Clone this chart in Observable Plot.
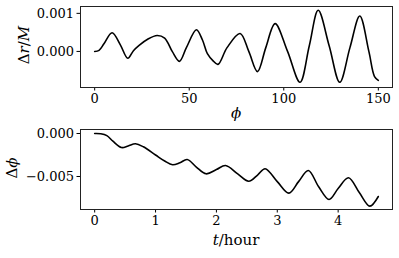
<!DOCTYPE html>
<html><head><meta charset="utf-8">
<script src="https://cdn.jsdelivr.net/npm/d3@7"></script>
<script src="https://cdn.jsdelivr.net/npm/@observablehq/plot@0.6"></script>
<style>
body{margin:0;background:#fff;}
#chart{width:399px;}
svg{display:block;}
svg text, svg g{font-family:"DejaVu Serif" !important;}
</style></head><body><div id="chart"></div>
<script>
const phi = [0, 2.3, 4.9, 9.2, 13.5, 17.5, 20.5, 23.5, 28, 33, 37, 41, 44.8, 48.5, 53.8, 57, 59.6, 62.5, 65.2, 70, 76.9, 81.5, 86.1, 90.5, 95.4, 102, 108.6, 113.5, 118.2, 124, 129.6, 135, 140.2, 145, 148, 150];
const dr = [0, 0.00003, 0.0002, 0.00049, 0.00018, -0.00018, 0.00002, 0.00016, 0.00032, 0.00042, 0.00035, 0.0, -0.00026, 0.0001, 0.00057, 0.0003, -0.00006, -0.00024, -0.00034, 0.0001, 0.00047, 0.0, -0.00053, 0.0001, 0.00073, 0.0, -0.00081, 0.00015, 0.00108, 0.00015, -0.00081, 0.0001, 0.00093, 0.0, -0.00066, -0.00076];
const tHour = [0, 0.1, 0.2, 0.3, 0.44, 0.55, 0.67, 0.8, 1.0, 1.15, 1.28, 1.4, 1.52, 1.67, 1.83, 2.0, 2.15, 2.35, 2.53, 2.68, 2.8, 3.0, 3.19, 3.35, 3.51, 3.68, 3.85, 4.0, 4.17, 4.35, 4.52, 4.66];
const dphi = [0, -0.00003, -0.00025, -0.0009, -0.00163, -0.00145, -0.0012, -0.00155, -0.0025, -0.0032, -0.00364, -0.0034, -0.00302, -0.0039, -0.00469, -0.0042, -0.00372, -0.0047, -0.00555, -0.0048, -0.0041, -0.0056, -0.00694, -0.0056, -0.0043, -0.0062, -0.00767, -0.0064, -0.00515, -0.0069, -0.00845, -0.00733];

const topXTicks = [0, 50, 100, 150];
const topYTicks = [0, 0.001];
const topYTickLabels = ["0.000", "0.001"];
const botXTicks = [0, 1, 2, 3, 4];
const botYTicks = [0, -0.005];
const botYTickLabels = ["0.000", "\u22120.005"];

function panel({x, y, xDomain, yDomain, xTicks, yTicks, yLabels, height, mt, mb}) {
  const data = x.map((v, i) => ({x: v, y: y[i]}));
  return Plot.plot({
    width: 399, height, marginLeft: 80, marginRight: 7, marginTop: mt, marginBottom: mb,
    style: {fontSize: "13px", color: "#000", background: "#fff", overflow: "visible"},
    x: {domain: xDomain, label: null},
    y: {domain: yDomain, label: null},
    marks: [
      Plot.axisX({ticks: xTicks, tickSize: 3.5, tickPadding: 3, fontSize: 13, label: null,
        tickFormat: d => String(d)}),
      Plot.axisY({ticks: yTicks, tickSize: 3.5, tickPadding: 3, fontSize: 13, label: null,
        tickFormat: d => yLabels[yTicks.indexOf(d)]}),
      Plot.frame({stroke: "#222", strokeWidth: 1}),
      Plot.line(data, {x: "x", y: "y", stroke: "#000", strokeWidth: 1.6, curve: "catmull-rom"})
    ]
  });
}

const topPanel = panel({x: phi, y: dr, xDomain: [-7.5, 157.5], yDomain: [-0.000947, 0.00118],
  xTicks: topXTicks, yTicks: topYTicks, yLabels: topYTickLabels, height: 125, mt: 6, mb: 38});
const botPanel = panel({x: tHour, y: dphi, xDomain: [-0.233, 4.893], yDomain: [-0.00884, 0.000465],
  xTicks: botXTicks, yTicks: botYTicks, yLabels: botYTickLabels, height: 133, mt: 4, mb: 49});

const chart = document.getElementById("chart");
chart.appendChild(topPanel);
chart.appendChild(botPanel);

function addLabel(svg, x, y, parts, rotate) {
  const t = d3.select(svg).append("text")
    .attr("text-anchor", "middle")
    .attr("dominant-baseline", "middle")
    .attr("font-size", 15)
    .attr("fill", "#000")
    .attr("transform", `translate(${x},${y})` + (rotate ? " rotate(-90)" : ""));
  parts.forEach(([s, it]) => t.append("tspan").attr("font-style", it ? "italic" : "normal").text(s));
}
addLabel(topPanel, 25, 45, [["\u0394", 0], ["r", 1], ["/", 0], ["M", 1]], true);
addLabel(topPanel, 236, 114, [["\u03d5", 1]], false);
addLabel(botPanel, 13, 43, [["\u0394", 0], ["\u03d5", 1]], true);
addLabel(botPanel, 236, 116, [["t", 1], ["/hour", 0]], false);
</script></body></html>
